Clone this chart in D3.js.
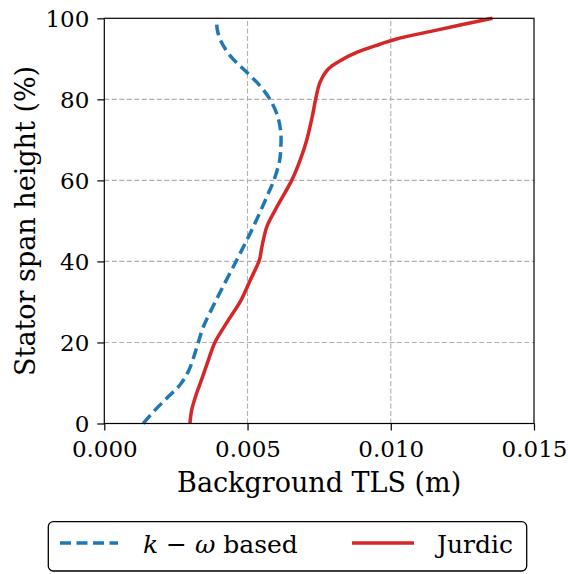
<!DOCTYPE html>
<html>
<head>
<meta charset="utf-8">
<script src="https://cdn.jsdelivr.net/npm/d3@7"></script>
</head>
<body style="margin:0">
<svg id="chart" width="568" height="574" style="display:block"></svg>
<script>
// Span height (%) at which each profile is sampled
const kwHeight = [0, 3.3, 6.6, 9.5, 12.8, 16.1, 20, 23.9, 30.4, 40.3, 48.5, 56.7, 60, 64.9, 67.8, 71.9, 76.1, 80, 83.4, 87.1, 90.8, 94.5, 97.4, 100];
// Background turbulent length scale, k-omega based (m)
const kwTLS = [0.00136, 0.00177, 0.00223, 0.00264, 0.00293, 0.00311, 0.00328, 0.00346, 0.00390, 0.00462, 0.00520, 0.00572, 0.00592, 0.00612, 0.00616, 0.00616, 0.00604, 0.00578, 0.00543, 0.00491, 0.00439, 0.00406, 0.00394, 0.00392];

const jurdicHeight = [0, 3.3, 7.4, 11.5, 15.6, 20, 25.5, 30.4, 35.3, 40.3, 43.5, 48.5, 52.6, 60, 64.9, 69.8, 76.1, 80.1, 84.2, 87.5, 89.6, 91.6, 93.6, 94.9, 96.9, 100];
// Background turbulent length scale, Jurdic correlation (m)
const jurdicTLS = [0.00299, 0.00305, 0.00322, 0.00343, 0.00363, 0.00386, 0.00433, 0.00477, 0.00509, 0.00541, 0.00550, 0.00567, 0.00596, 0.00654, 0.00683, 0.00706, 0.00727, 0.00738, 0.00753, 0.00782, 0.00825, 0.00881, 0.00962, 0.01020, 0.01148, 0.01355];

const xTicks = [0, 0.005, 0.010, 0.015];
const yTicks = [0, 20, 40, 60, 80, 100];

const FONT = "'DejaVu Serif'";
const TICK_FS = 23;
const LABEL_FS = 27;
const LEGEND_FS = 25;

const svg = d3.select("#chart");
const W = 568, H = 574;
const margin = { left: 104.3, right: W - 534, top: 18.3, bottom: H - 423.5 };

const x = d3.scaleLinear().domain([0, 0.015]).range([margin.left, W - margin.right]);
const y = d3.scaleLinear().domain([0, 100]).range([H - margin.bottom, margin.top]);

// Grid
const grid = svg.append("g");
grid.selectAll(".gx").data(xTicks.slice(1, -1)).enter().append("line")
  .attr("x1", d => x(d)).attr("x2", d => x(d))
  .attr("y1", y(0)).attr("y2", y(100))
  .attr("stroke", "#b0b0b0").attr("stroke-width", 1.1).attr("stroke-dasharray", "5,2.5");
grid.selectAll(".gy").data(yTicks.slice(1, -1)).enter().append("line")
  .attr("x1", x(0)).attr("x2", x(0.015))
  .attr("y1", d => y(d)).attr("y2", d => y(d))
  .attr("stroke", "#b0b0b0").attr("stroke-width", 1.1).attr("stroke-dasharray", "5,2.5");

// Profiles
const line = d3.line()
  .x(d => x(d[0])).y(d => y(d[1]))
  .curve(d3.curveCatmullRom.alpha(0.5));

const plot = svg.append("g");
plot.append("path")
  .datum(kwTLS.map((v, i) => [v, kwHeight[i]]))
  .attr("fill", "none").attr("stroke", "#1f77b4").attr("stroke-width", 3.5)
  .attr("stroke-dasharray", "11,5.5")
  .attr("d", line);
plot.append("path")
  .datum(jurdicTLS.map((v, i) => [v, jurdicHeight[i]]))
  .attr("fill", "none").attr("stroke", "#d62728").attr("stroke-width", 3.5)
  .attr("d", line);

// Frame
svg.append("rect")
  .attr("x", x(0)).attr("y", y(100))
  .attr("width", x(0.015) - x(0)).attr("height", y(0) - y(100))
  .attr("fill", "none").attr("stroke", "#000").attr("stroke-width", 1.2);

// Axes
const xAxis = d3.axisBottom(x).tickValues(xTicks).tickFormat(d3.format(".3f")).tickSize(7).tickPadding(10);
const yAxis = d3.axisLeft(y).tickValues(yTicks).tickFormat(d3.format("d")).tickSize(7).tickPadding(8);

const gx = svg.append("g").attr("transform", `translate(0,${y(0)})`).call(xAxis);
const gy = svg.append("g").attr("transform", `translate(${x(0)},0)`).call(yAxis);
[gx, gy].forEach(g => {
  g.attr("font-family", null).attr("font-size", null);
  g.select(".domain").remove();
  g.selectAll(".tick line").attr("stroke", "#000").attr("stroke-width", 1.2);
  g.selectAll(".tick text").attr("fill", "#000").attr("font-size", TICK_FS)
    .style("font-family", FONT);
});
gy.selectAll(".tick text").attr("dy", "0.36em");

// Axis titles
svg.append("text")
  .attr("x", (x(0) + x(0.015)) / 2).attr("y", 492)
  .attr("text-anchor", "middle").attr("font-size", LABEL_FS)
  .style("font-family", FONT)
  .text("Background TLS (m)");
svg.append("text")
  .attr("transform", `translate(35,${(y(0) + y(100)) / 2}) rotate(-90)`)
  .attr("text-anchor", "middle").attr("font-size", LABEL_FS)
  .style("font-family", FONT)
  .text("Stator span height (%)");

// Legend
const legend = svg.append("g");
legend.append("rect")
  .attr("x", 48.3).attr("y", 521.7).attr("width", 478.4).attr("height", 49.3)
  .attr("rx", 5).attr("ry", 5)
  .attr("fill", "#fff").attr("stroke", "#000").attr("stroke-width", 1.3);
const ly = 543;
legend.append("line")
  .attr("x1", 60).attr("x2", 118).attr("y1", ly).attr("y2", ly)
  .attr("stroke", "#1f77b4").attr("stroke-width", 3.5).attr("stroke-dasharray", "11,5.5");
const t1 = legend.append("text").attr("x", 143).attr("y", 553).attr("font-size", LEGEND_FS)
  .style("font-family", FONT);
t1.append("tspan").attr("font-style", "italic").text("k");
t1.append("tspan").text(" \u2212 ");
t1.append("tspan").attr("font-style", "italic").text("\u03C9");
t1.append("tspan").text(" based");
legend.append("line")
  .attr("x1", 352).attr("x2", 414).attr("y1", ly).attr("y2", ly)
  .attr("stroke", "#d62728").attr("stroke-width", 3.5);
legend.append("text").attr("x", 437).attr("y", 553).attr("font-size", LEGEND_FS)
  .style("font-family", FONT).text("Jurdic");
</script>
</body>
</html>
